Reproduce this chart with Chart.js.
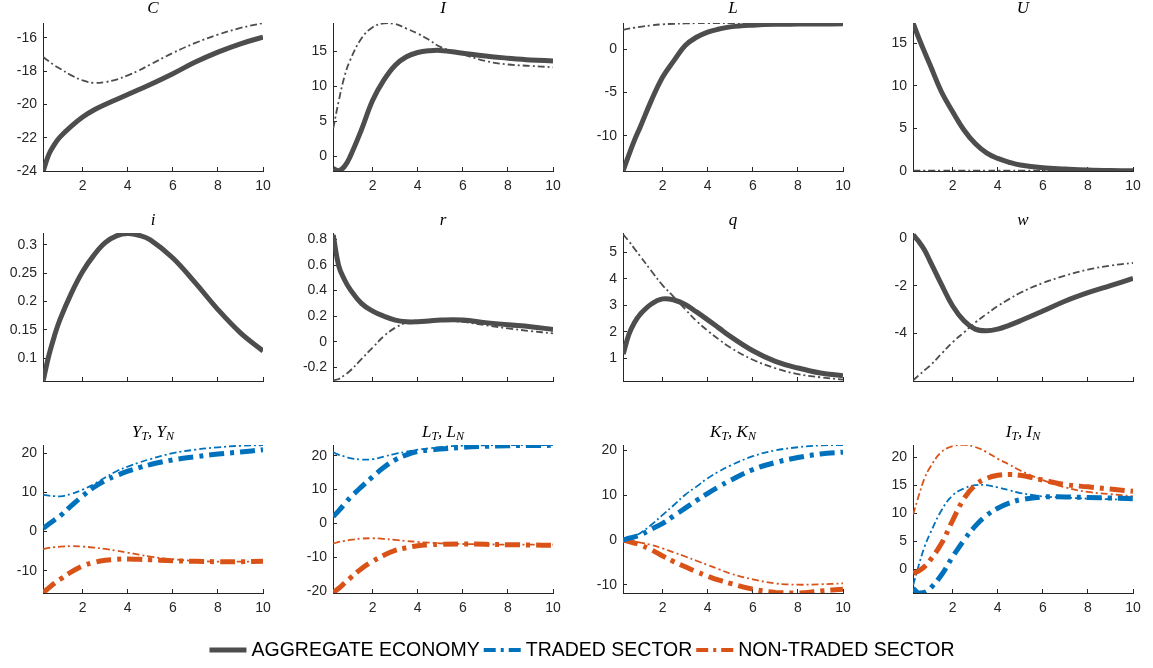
<!DOCTYPE html>
<html><head><meta charset="utf-8">
<script src="https://cdn.jsdelivr.net/npm/chart.js@4.4.0/dist/chart.umd.min.js"></script>
<style>
html,body{margin:0;padding:0;background:#fff;}
#wrap{position:relative;width:1153px;height:668px;overflow:hidden;background:#fff;}
canvas{position:absolute;}
.t{position:absolute;width:220px;text-align:center;font-family:'Liberation Serif','Times New Roman',serif;font-style:italic;font-size:17px;line-height:17px;color:#000;white-space:nowrap;}
.t sub{font-size:12px;position:relative;top:3px;vertical-align:baseline;}
</style></head><body><div id="wrap"></div>
<script>
// ---- data ----
const X = [0.25,0.5,0.75,1,1.5,2,2.5,3,3.5,4,4.5,5,6,7,8,9,10];
const xTicks = [2,4,6,8,10];

const C_agg  = [-24,-23.0,-22.4,-21.95,-21.3,-20.75,-20.33,-20.0,-19.7,-19.4,-19.1,-18.8,-18.15,-17.45,-16.85,-16.35,-15.95];
const C_alt  = [-17.15,-17.4,-17.65,-17.85,-18.25,-18.55,-18.7,-18.65,-18.5,-18.25,-17.95,-17.6,-16.9,-16.3,-15.8,-15.4,-15.1];
const I_agg  = [-1.7,-2.0,-1.4,0,3.8,8.0,10.9,13.0,14.2,14.8,15.05,15.1,14.7,14.3,14.0,13.75,13.6];
const I_alt  = [4.0,8.0,11.4,13.7,16.8,18.4,18.95,18.85,18.2,17.5,16.6,15.6,14.55,13.6,13.1,12.9,12.7];
const L_agg  = [-14.0,-12.2,-10.5,-9.0,-5.9,-3.2,-1.3,0.45,1.4,2.0,2.35,2.6,2.8,2.9,2.92,2.94,2.95];
const L_alt  = [2.27,2.4,2.5,2.6,2.78,2.9,2.96,3.0,3.03,3.05,3.05,3.03,3.0,2.98,2.97,2.96,2.95];
const U_agg  = [17.35,15.6,14.0,12.45,9.3,6.95,4.8,3.2,2.1,1.45,1.0,0.67,0.35,0.2,0.08,0.02,0.0];
const U_alt  = [0,0,0,0,0,0,0,0,0,0,0,0,0,0,0,0,0];
const i_agg  = [0.061,0.105,0.14,0.169,0.215,0.253,0.282,0.304,0.316,0.32,0.317,0.309,0.277,0.233,0.186,0.145,0.113];
const r_agg  = [0.834,0.59,0.485,0.41,0.30,0.24,0.20,0.17,0.157,0.157,0.163,0.17,0.17,0.15,0.133,0.118,0.097];
const r_alt  = [-0.30,-0.29,-0.26,-0.226,-0.135,-0.045,0.045,0.11,0.15,0.162,0.166,0.167,0.155,0.13,0.105,0.084,0.066];
const q_agg  = [1.16,1.9,2.35,2.66,3.05,3.24,3.2,3.03,2.75,2.45,2.14,1.83,1.29,0.89,0.64,0.45,0.35];
const q_alt  = [5.66,5.41,5.13,4.85,4.29,3.75,3.31,2.85,2.41,2.04,1.71,1.41,0.95,0.63,0.41,0.29,0.2];
const w_agg  = [0.14,-0.14,-0.49,-0.97,-1.94,-2.85,-3.47,-3.82,-3.89,-3.82,-3.66,-3.47,-3.06,-2.64,-2.29,-1.99,-1.69];
const w_alt  = [-5.97,-5.76,-5.55,-5.35,-4.86,-4.37,-3.96,-3.54,-3.19,-2.85,-2.56,-2.29,-1.88,-1.57,-1.32,-1.15,-1.04];
const YT     = [0.85,1.9,2.95,4.0,6.6,9.1,11.3,13.0,14.3,15.4,16.3,17.1,18.3,19.1,19.8,20.3,20.9];
const YT_alt = [9.4,9.15,9.05,9.0,9.6,10.7,12.1,13.8,15.4,16.6,17.6,18.5,20.0,20.9,21.5,21.9,22.05];
const YN     = [-15.6,-14.4,-13.2,-12.2,-10.3,-8.8,-7.9,-7.35,-7.1,-7.0,-7.1,-7.2,-7.45,-7.6,-7.7,-7.7,-7.6];
const YN_alt = [-4.5,-4.2,-4.0,-3.85,-3.75,-3.85,-4.1,-4.45,-4.9,-5.4,-5.9,-6.4,-7.1,-7.5,-7.7,-7.7,-7.6];
const LT     = [2.0,3.8,5.7,7.6,10.8,13.8,16.6,18.8,20.3,21.3,21.7,22.0,22.5,22.8,23.0,23.05,23.1];
const LT_alt = [21.0,20.3,19.8,19.3,18.9,19.0,19.8,20.6,21.2,21.8,22.2,22.6,23.0,23.1,23.2,23.2,23.2];
const LN     = [-20.5,-19.2,-17.7,-16.2,-13.4,-11.2,-9.4,-8.0,-7.2,-6.6,-6.35,-6.2,-6.1,-6.2,-6.3,-6.4,-6.5];
const LN_alt = [-6.0,-5.5,-5.2,-4.9,-4.5,-4.4,-4.6,-4.9,-5.2,-5.5,-5.7,-5.9,-6.1,-6.2,-6.3,-6.3,-6.3];
const KT     = [0,0.37,0.7,1.1,2.4,3.7,5.4,7.1,8.8,10.4,11.9,13.3,15.7,17.3,18.4,19.2,19.6];
const KT_alt = [0,0.4,0.9,1.5,3.4,5.6,7.8,10.1,11.9,13.8,15.3,16.6,18.7,20.0,20.7,21.1,21.2];
const KN     = [0,-0.37,-0.7,-1.1,-2.2,-3.6,-4.85,-6.0,-7.1,-8.1,-9.0,-9.7,-11.0,-11.75,-11.85,-11.4,-11.0];
const KN_alt = [0,-0.15,-0.35,-0.6,-1.1,-1.9,-2.8,-3.7,-4.65,-5.6,-6.55,-7.5,-8.8,-9.7,-10.0,-9.9,-9.7];
const IT     = [-3.4,-4.25,-4.1,-3.4,-1.0,2.25,5.2,7.7,9.6,10.9,11.8,12.4,12.9,12.9,12.8,12.7,12.6];
const IT_alt = [-2.8,0.8,4.0,6.4,10.5,13.2,14.4,15.0,15.0,14.6,14.1,13.6,13.0,12.8,12.6,12.5,12.4];
const IN     = [-0.7,-0.25,0.5,1.65,4.6,8.75,12.6,15.0,16.2,16.75,16.9,16.75,15.9,15.1,14.7,14.3,13.9];
const IN_alt = [9.8,13.2,16.2,18.2,20.9,21.95,22.2,21.8,20.9,19.7,18.7,17.6,15.9,14.6,13.8,13.4,13.0];

const legendLabels = ['AGGREGATE ECONOMY','TRADED SECTOR','NON-TRADED SECTOR'];

// ---- styles ----
const GRAY='#4d4d4d', BLUE='#0072BD', RED='#D95319';
const ST = {
  agg:   {c:GRAY, w:5, d:[]},
  aggAlt:{c:GRAY, w:1.8, d:[7,3,2,3]},
  T:     {c:BLUE, w:5, d:[15,6,4,6]},
  TAlt:  {c:BLUE, w:1.8, d:[7,3,2,3]},
  N:     {c:RED,  w:5, d:[15,6,4,6]},
  NAlt:  {c:RED,  w:1.8, d:[7,3,2,3]}
};

const panels = [
  {t:'<i>C</i>', s:[[C_agg,'agg'],[C_alt,'aggAlt']], min:-24, max:-15.1, yt:[-24,-22,-20,-18,-16], xl:true},
  {t:'<i>I</i>', s:[[I_agg,'agg'],[I_alt,'aggAlt']], min:-2.05, max:19.0, yt:[0,5,10,15], xl:true},
  {t:'<i>L</i>', s:[[L_agg,'agg'],[L_alt,'aggAlt']], min:-14.07, max:3.05, yt:[-10,-5,0], xl:true},
  {t:'<i>U</i>', s:[[U_agg,'agg'],[U_alt,'aggAlt']], min:-0.03, max:17.4, yt:[0,5,10,15], xl:true},
  {t:'<i>i</i>', s:[[i_agg,'agg']], min:0.06, max:0.321, yt:[0.1,0.15,0.2,0.25,0.3], xl:false},
  {t:'<i>r</i>', s:[[r_agg,'agg'],[r_alt,'aggAlt']], min:-0.306, max:0.85, yt:[-0.2,0,0.2,0.4,0.6,0.8], xl:false},
  {t:'<i>q</i>', s:[[q_agg,'agg'],[q_alt,'aggAlt']], min:0.15, max:5.72, yt:[1,2,3,4,5], xl:false},
  {t:'<i>w</i>', s:[[w_agg,'agg'],[w_alt,'aggAlt']], min:-6.0, max:0.22, yt:[-4,-2,0], xl:false},
  {t:'<i>Y</i><sub><i>T</i></sub>, <i>Y</i><sub><i>N</i></sub>', s:[[YT,'T'],[YN,'N'],[YT_alt,'TAlt'],[YN_alt,'NAlt']], min:-15.7, max:22.1, yt:[-10,0,10,20], xl:true},
  {t:'<i>L</i><sub><i>T</i></sub>, <i>L</i><sub><i>N</i></sub>', s:[[LT,'T'],[LN,'N'],[LT_alt,'TAlt'],[LN_alt,'NAlt']], min:-20.6, max:23.2, yt:[-20,-10,0,10,20], xl:true},
  {t:'<i>K</i><sub><i>T</i></sub>, <i>K</i><sub><i>N</i></sub>', s:[[KT,'T'],[KN,'N'],[KT_alt,'TAlt'],[KN_alt,'NAlt']], min:-11.85, max:21.2, yt:[-10,0,10,20], xl:true},
  {t:'<i>I</i><sub><i>T</i></sub>, <i>I</i><sub><i>N</i></sub>', s:[[IT,'T'],[IN,'N'],[IT_alt,'TAlt'],[IN_alt,'NAlt']], min:-4.2, max:22.15, yt:[0,5,10,15,20], xl:true}
];

// ---- layout ----
const colL = [43, 333, 623, 913];
const rowT = [23, 233, 445];
const PW = 220, PH = 148, PADL = 50, PADT = 8, PADR = 12, XH = 26;
const titleBase = [13, 225, 437];
const FONT = "'Liberation Sans', Arial, Helvetica, sans-serif";
const AX = '#262626';

const wrap = document.getElementById('wrap');
panels.forEach((p, k) => {
  const r = Math.floor(k/4), c = k%4;
  const cv = document.createElement('canvas');
  const W = PW + PADL + PADR, H = PH + PADT + XH;
  cv.width = W; cv.height = H;
  cv.style.left = (colL[c]-PADL)+'px'; cv.style.top = (rowT[r]-PADT)+'px';
  cv.style.width = W+'px'; cv.style.height = H+'px';
  wrap.appendChild(cv);
  const tt = document.createElement('div');
  tt.className = 't'; tt.innerHTML = p.t;
  tt.style.left = colL[c]+'px'; tt.style.top = (titleBase[r]-14)+'px';
  wrap.appendChild(tt);

  const datasets = p.s.map(([arr, key]) => {
    const st = ST[key];
    return {
      data: X.map((x,i)=>({x:x, y:arr[i]})),
      borderColor: st.c, backgroundColor: st.c, borderWidth: st.w, borderDash: st.d,
      pointRadius: 0, fill: false, tension: 0.4, borderCapStyle: 'butt', borderJoinStyle:'round'
    };
  });
  new Chart(cv, {
    type: 'line',
    data: {datasets},
    options: {
      responsive: false, animation: false, devicePixelRatio: 1, events: [],
      layout: {padding: {left:0, top:PADT, right:PADR, bottom:0}},
      plugins: {legend:{display:false}, tooltip:{enabled:false}, title:{display:false}},
      scales: {
        x: {
          type:'linear', min:0.24, max:10,
          afterBuildTicks: s => { s.ticks = xTicks.map(v=>({value:v})); },
          afterFit: s => { s.height = XH; s.paddingLeft = 0; s.paddingRight = 0; },
          grid: {drawOnChartArea:false, drawTicks:true, tickLength:-4, color:AX, lineWidth:1},
          border: {display:true, color:AX, width:1},
          ticks: {padding:11, autoSkip:false, maxRotation:0, color:AX, font:{family:FONT, size:14},
                  callback: v => p.xl ? String(v) : ''}
        },
        y: {
          type:'linear', min:p.min, max:p.max,
          afterBuildTicks: s => { s.ticks = p.yt.map(v=>({value:v})); },
          afterFit: s => { s.width = PADL; s.paddingTop = 0; s.paddingBottom = 0; },
          grid: {drawOnChartArea:false, drawTicks:true, tickLength:-4, color:AX, lineWidth:1},
          border: {display:true, color:AX, width:1},
          ticks: {padding:10, autoSkip:false, color:AX, font:{family:FONT, size:14},
                  callback: v => String(Math.round(v*1000)/1000)}
        }
      }
    }
  });
});

// ---- legend (drawn by a small Chart.js plugin on its own canvas) ----
const lc = document.createElement('canvas');
lc.width = 1153; lc.height = 36;
lc.style.left = '0px'; lc.style.top = '632px'; lc.style.width='1153px'; lc.style.height='36px';
wrap.appendChild(lc);
const legendStyles = [{s:ST.agg, lw:5}, {s:ST.T, lw:4}, {s:ST.N, lw:4}];
const legendPlugin = {
  id: 'customLegend',
  afterDraw(chart) {
    const ctx = chart.ctx;
    const y = 18;
    const sampleLen = 37, gapToText = 5, gapItems = 4;
    ctx.save();
    ctx.font = "19.5px " + FONT;
    const widths = legendLabels.map(t => ctx.measureText(t).width);
    const total = widths.reduce((a,w)=>a+sampleLen+gapToText+w,0) + gapItems*(legendLabels.length-1);
    let x = 582 - total/2;
    legendLabels.forEach((t,i) => {
      const st = legendStyles[i];
      ctx.beginPath();
      ctx.strokeStyle = st.s.c; ctx.lineWidth = st.lw; ctx.lineCap='butt';
      ctx.setLineDash(st.s.d.length ? [12,5,3,5] : []);
      ctx.moveTo(x, y); ctx.lineTo(x+sampleLen, y); ctx.stroke();
      ctx.setLineDash([]);
      ctx.fillStyle = '#000'; ctx.textBaseline = 'middle'; ctx.textAlign='left';
      ctx.fillText(t, x+sampleLen+gapToText, y+1);
      x += sampleLen + gapToText + widths[i] + gapItems;
    });
    ctx.restore();
  }
};
new Chart(lc, {
  type: 'line',
  data: {datasets: []},
  options: {
    responsive:false, animation:false, devicePixelRatio:1, events:[],
    layout:{padding:0},
    scales:{x:{display:false}, y:{display:false}},
    plugins:{tooltip:{enabled:false}, legend:{display:false}}
  },
  plugins:[legendPlugin]
});
</script></body></html>
